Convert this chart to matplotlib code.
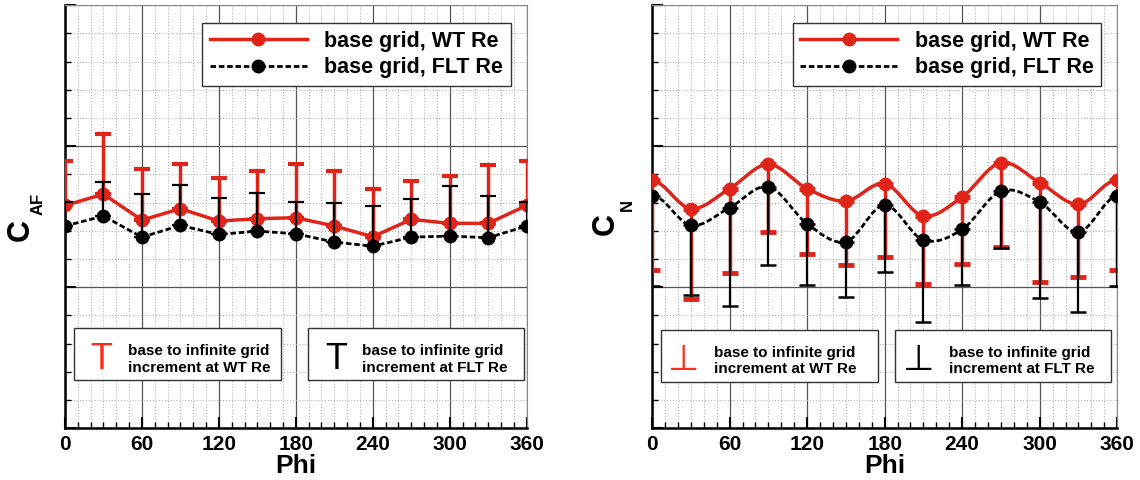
import numpy as np
import matplotlib.pyplot as plt
from matplotlib.lines import Line2D
from matplotlib.patches import PathPatch, Rectangle
from matplotlib.path import Path
from matplotlib.ticker import MultipleLocator, NullFormatter

plt.rcParams['font.family'] = ['Liberation Sans', 'DejaVu Sans']
plt.rcParams['font.weight'] = 'bold'

# data (y axis has no labels, so units are arbitrary: 0..3)
phi = [0, 30, 60, 90, 120, 150, 180, 210, 240, 270, 300, 330, 360]

caf_wt = [1.58, 1.66, 1.476, 1.557, 1.469, 1.486, 1.493, 1.434, 1.358, 1.481, 1.453, 1.453, 1.58]
caf_flt = [1.434, 1.505, 1.355, 1.438, 1.374, 1.398, 1.379, 1.32, 1.291, 1.355, 1.363, 1.351, 1.434]
caf_wt_top = [1.896, 2.085, 1.836, 1.877, 1.773, 1.825, 1.872, 1.825, 1.694, 1.754, 1.789, 1.867, 1.896]
caf_flt_top = [1.607, 1.749, 1.659, 1.725, 1.635, 1.671, 1.607, 1.6, 1.576, 1.623, 1.718, 1.647, 1.607]

cn_wt = [1.758, 1.557, 1.699, 1.872, 1.699, 1.611, 1.735, 1.505, 1.64, 1.884, 1.742, 1.588, 1.758]
cn_flt = [1.647, 1.438, 1.564, 1.713, 1.45, 1.322, 1.583, 1.334, 1.41, 1.682, 1.604, 1.391, 1.647]
cn_wt_bot = [1.121, 0.917, 1.102, 1.393, 1.239, 1.156, 1.216, 1.026, 1.166, 1.287, 1.038, 1.071, 1.121]
cn_flt_bot = [1.007, 0.943, 0.87, 1.161, 1.019, 0.931, 1.109, 0.751, 1.019, 1.275, 0.924, 0.825, 1.007]

labels = ['base grid, WT Re', 'base grid, FLT Re']
note_wt = 'base to infinite grid\nincrement at WT Re'
note_flt = 'base to infinite grid\nincrement at FLT Re'

RED = '#e0241a'


def smooth_path(x, y):
    # periodic Catmull-Rom curve through the points, as cubic Bezier segments
    x = np.asarray(x, float)
    y = np.asarray(y, float)
    yy = np.r_[y[-2], y, y[1]]
    m = (yy[2:] - yy[:-2]) / 2
    dx = np.diff(x) / 3
    verts = [(x[0], y[0])]
    codes = [Path.MOVETO]
    for i in range(len(x) - 1):
        verts += [(x[i] + dx[i], y[i] + m[i] / 3),
                  (x[i + 1] - dx[i], y[i + 1] - m[i + 1] / 3),
                  (x[i + 1], y[i + 1])]
        codes += [Path.CURVE4] * 3
    return Path(verts, codes)


def style_axes(ax):
    ax.set_xlim(0, 360)
    ax.set_ylim(0, 3)
    ax.xaxis.set_major_locator(MultipleLocator(60))
    ax.xaxis.set_minor_locator(MultipleLocator(10))
    ax.yaxis.set_major_locator(MultipleLocator(1))
    ax.yaxis.set_minor_locator(MultipleLocator(0.2))
    ax.yaxis.set_major_formatter(NullFormatter())
    ax.grid(which='major', color='#555555', lw=0.9)
    ax.grid(which='minor', color='#a8a8a8', lw=0.7, ls=(0, (1, 2)))
    ax.set_axisbelow(True)
    ax.tick_params(which='major', direction='in', length=8, width=1.5,
                   labelsize=15, pad=5)
    ax.tick_params(which='minor', direction='in', length=4, width=1)
    for s in ['top', 'right']:
        ax.spines[s].set_color('#888888')
        ax.spines[s].set_linewidth(0.8)
    for s in ['left', 'bottom']:
        ax.spines[s].set_color('black')
        ax.spines[s].set_linewidth(1.8)
    ax.set_xlabel('Phi', fontsize=19, fontweight='bold', labelpad=0)


def series_legend(ax):
    handles = [Line2D([], [], color=RED, lw=2.5, marker='o', ms=9),
               Line2D([], [], color='black', lw=2, ls=(0, (2, 1)), marker='o', ms=9)]
    leg = ax.legend(handles, labels, loc='upper right', bbox_to_anchor=(0.965, 0.957),
                    borderaxespad=0, prop={'weight': 'bold', 'size': 15.5},
                    handlelength=4.5, handletextpad=0.8, borderpad=0.35,
                    labelspacing=0.25, fancybox=False, framealpha=1,
                    edgecolor='#333333')
    leg.get_frame().set_linewidth(1)
    leg.set_zorder(10)


def note_box(ax, x0, x1, y0, glyph, gx, tx, color, text):
    ax.add_patch(Rectangle((x0, y0), x1 - x0, 0.123, transform=ax.transAxes,
                           fc='white', ec='#333333', lw=1, zorder=7))
    ax.text(gx, y0 + 0.05, glyph, transform=ax.transAxes, color=color, fontsize=26,
            fontweight='normal', ha='center', va='center', zorder=8)
    ax.text(tx, y0 + 0.05, text, transform=ax.transAxes, fontsize=11,
            ha='left', va='center', linespacing=1.25, zorder=8)


fig = plt.figure(figsize=(11.4, 4.8), dpi=100)
ax1 = fig.add_axes([0.057, 0.108, 0.405, 0.881])
ax2 = fig.add_axes([0.572, 0.108, 0.408, 0.881])

# left: C_AF, straight segments, increments upwards
wt = np.array(caf_wt)
flt = np.array(caf_flt)
ax1.errorbar(phi, wt, yerr=[np.zeros_like(wt), np.array(caf_wt_top) - wt], fmt='none',
             ecolor=RED, elinewidth=2.5, capsize=6, capthick=3, zorder=3)
ax1.plot(phi, wt, color=RED, lw=2.5, marker='o', ms=9, zorder=4)
ax1.plot(phi, flt, color='black', lw=2, ls=(0, (2, 1)), marker='o', ms=9, zorder=5)
ax1.errorbar(phi, flt, yerr=[np.zeros_like(flt), np.array(caf_flt_top) - flt], fmt='none',
             ecolor='black', elinewidth=1.6, capsize=5.5, capthick=1.6, zorder=6)
style_axes(ax1)
series_legend(ax1)
note_box(ax1, 0.019, 0.468, 0.113, 'T', 0.078, 0.136, '#ff2a1a', note_wt)
note_box(ax1, 0.526, 0.994, 0.113, 'T', 0.587, 0.643, 'black', note_flt)

# right: C_N, smooth curves, increments downwards
wt = np.array(cn_wt)
flt = np.array(cn_flt)
ax2.errorbar(phi, wt, yerr=[wt - np.array(cn_wt_bot), np.zeros_like(wt)], fmt='none',
             ecolor=RED, elinewidth=2.5, capsize=6, capthick=3.5, zorder=3)
ax2.add_patch(PathPatch(smooth_path(phi, wt), fill=False, ec=RED, lw=2.5, zorder=4))
ax2.plot(phi, wt, color=RED, ls='none', marker='o', ms=9, zorder=4)
ax2.add_patch(PathPatch(smooth_path(phi, flt), fill=False, ec='black', lw=2,
                        ls=(0, (2, 1)), zorder=5))
ax2.plot(phi, flt, color='black', ls='none', marker='o', ms=9, zorder=5)
ax2.errorbar(phi, flt, yerr=[flt - np.array(cn_flt_bot), np.zeros_like(flt)], fmt='none',
             ecolor='black', elinewidth=1.6, capsize=5.5, capthick=1.8, zorder=6)
style_axes(ax2)
series_legend(ax2)
note_box(ax2, 0.019, 0.485, 0.109, '\u22a5', 0.067, 0.134, '#ff2a1a', note_wt)
note_box(ax2, 0.522, 0.987, 0.109, '\u22a5', 0.573, 0.638, 'black', note_flt)

# y labels: big C with small subscript
fig.text(21 / 1140, 1 - 230 / 480, 'C', rotation=90, fontsize=22, ha='center', va='center')
fig.text(38 / 1140, 1 - 204 / 480, 'AF', rotation=90, fontsize=12, ha='center', va='center')
fig.text(606 / 1140, 1 - 224 / 480, 'C', rotation=90, fontsize=22, ha='center', va='center')
fig.text(627 / 1140, 1 - 205 / 480, 'N', rotation=90, fontsize=12, ha='center', va='center')

fig.savefig('out.png', dpi=100)
